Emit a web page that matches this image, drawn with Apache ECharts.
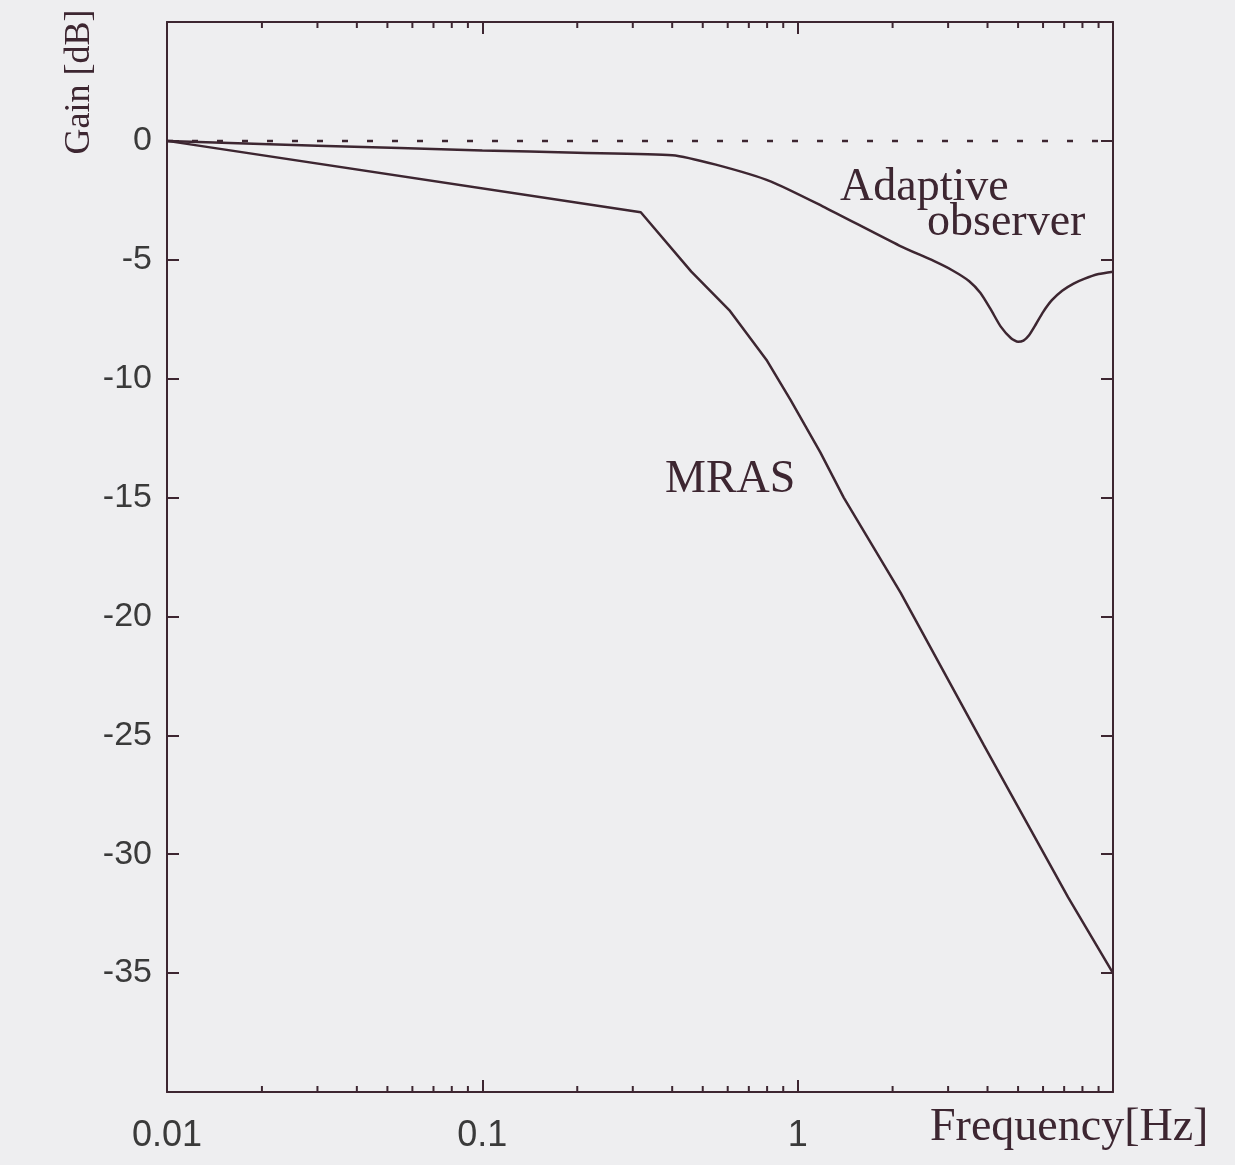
<!DOCTYPE html>
<html>
<head>
<meta charset="utf-8">
<script src="https://cdn.jsdelivr.net/npm/echarts@6/dist/echarts.min.js"></script>
<style>
  html, body { margin: 0; padding: 0; background: #eeeef0; }
  #container { width: 1235px; height: 1165px; }
</style>
</head>
<body>
<div id="container"></div>
<script>
var dom = document.getElementById('container');
var myChart = echarts.init(dom, null, { renderer: 'canvas' });

// frequency [Hz], gain [dB]
var adaptiveObserver = [
    [0.01, 0], [0.03, -0.2], [0.1, -0.4], [0.2, -0.5], [0.4, -0.6],
    [0.55, -1.0], [0.82, -1.7], [1.2, -2.75], [2.1, -4.4], [2.7, -5.05],
    [3.1, -5.45], [3.5, -5.9], [3.8, -6.4], [4.1, -7.1], [4.4, -7.8],
    [4.75, -8.3], [5.0, -8.45], [5.2, -8.4], [5.4, -8.2], [5.7, -7.7],
    [6.0, -7.2], [6.4, -6.7], [6.9, -6.3], [7.5, -6.0], [8.1, -5.8],
    [9.0, -5.6], [10, -5.5]
];

var mras = [
    [0.01, 0], [0.318, -3.0], [0.46, -5.5], [0.61, -7.15], [0.8, -9.25],
    [0.95, -10.9], [1.18, -13.1], [1.4, -15.0], [2.12, -19.0],
    [3.89, -25.4], [7.2, -31.8], [10, -35.0]
];

var zeroLine = [[0.01, 0], [10, 0]];

var minorTicks = [
    0.02, 0.03, 0.04, 0.05, 0.06, 0.07, 0.08, 0.09,
    0.2, 0.3, 0.4, 0.5, 0.6, 0.7, 0.8, 0.9,
    2, 3, 4, 5, 6, 7, 8, 9
];

var xMin = 0.01, xMax = 10;
var yMin = -40, yMax = 5;

var ink = '#3d2631';
var labelColor = '#3a3a3a';
var sansFont = '"Liberation Sans", Arial, sans-serif';
var serifFont = '"Liberation Serif", "Times New Roman", serif';

function xAxisCfg(pos, showLabel) {
    return {
        type: 'log',
        logBase: 10,
        position: pos,
        min: xMin,
        max: xMax,
        axisLine: { show: true, onZero: false, lineStyle: { color: ink, width: 2 } },
        axisTick: { show: true, inside: true, length: 12, lineStyle: { color: ink, width: 2 } },
        splitLine: { show: false },
        axisLabel: {
            show: showLabel,
            margin: 26,
            color: labelColor,
            fontSize: 36,
            fontFamily: sansFont,
            formatter: function (v) { return v >= 10 ? '' : String(v); }
        }
    };
}

function yAxisCfg(pos, showLabel) {
    return {
        type: 'value',
        position: pos,
        min: yMin,
        max: yMax,
        interval: 5,
        axisLine: { show: true, onZero: false, lineStyle: { color: ink, width: 2 } },
        axisTick: { show: true, inside: true, length: 12, lineStyle: { color: ink, width: 2 } },
        splitLine: { show: false },
        axisLabel: {
            show: showLabel,
            margin: 15,
            color: labelColor,
            fontSize: 34,
            fontFamily: sansFont,
            formatter: function (v) { return (v > 0 || v < -35) ? '' : String(v); }
        }
    };
}

var option = {
    backgroundColor: '#eeeef0',
    animation: false,
    grid: { left: 167, right: 122, top: 22, bottom: 73 },
    xAxis: [xAxisCfg('bottom', true), xAxisCfg('top', false)],
    yAxis: [yAxisCfg('left', true), yAxisCfg('right', false)],
    graphic: [
        {
            type: 'text', x: 80, y: 82, rotation: Math.PI / 2,
            style: { text: 'Gain [dB]', font: '36px ' + serifFont, fill: ink, align: 'center', verticalAlign: 'middle' }
        },
        {
            type: 'text', x: 840, y: 188,
            style: { text: 'Adaptive', font: '46px ' + serifFont, fill: ink, align: 'left', verticalAlign: 'middle' }
        },
        {
            type: 'text', x: 927, y: 223,
            style: { text: 'observer', font: '46px ' + serifFont, fill: ink, align: 'left', verticalAlign: 'middle' }
        },
        {
            type: 'text', x: 665, y: 480,
            style: { text: 'MRAS', font: '46px ' + serifFont, fill: ink, align: 'left', verticalAlign: 'middle' }
        },
        {
            type: 'text', x: 930, y: 1128,
            style: { text: 'Frequency[Hz]', font: '46px ' + serifFont, fill: ink, align: 'left', verticalAlign: 'middle' }
        }
    ],
    series: [
        {
            name: 'zero',
            type: 'line',
            data: zeroLine,
            showSymbol: false,
            lineStyle: { color: ink, width: 2.5, type: [6, 19] }
        },
        {
            name: 'Adaptive observer',
            type: 'line',
            data: adaptiveObserver,
            showSymbol: false,
            smooth: 0.2,
            lineStyle: { color: ink, width: 2.5 }
        },
        {
            name: 'MRAS',
            type: 'line',
            data: mras,
            showSymbol: false,
            lineStyle: { color: ink, width: 2.5 }
        },
        {
            // minor log ticks on bottom and top edges
            name: 'minorTicks',
            type: 'custom',
            data: minorTicks.map(function (v) { return [v, yMin]; }),
            encode: { x: 0, y: 1 },
            silent: true,
            renderItem: function (params, api) {
                var b = api.coord([api.value(0), yMin]);
                var t = api.coord([api.value(0), yMax]);
                var st = { stroke: ink, lineWidth: 2 };
                return {
                    type: 'group',
                    children: [
                        { type: 'line', shape: { x1: b[0], y1: b[1], x2: b[0], y2: b[1] - 6 }, style: st },
                        { type: 'line', shape: { x1: t[0], y1: t[1], x2: t[0], y2: t[1] + 6 }, style: st }
                    ]
                };
            }
        }
    ]
};

myChart.setOption(option);
window.addEventListener('resize', myChart.resize);
</script>
</body>
</html>
